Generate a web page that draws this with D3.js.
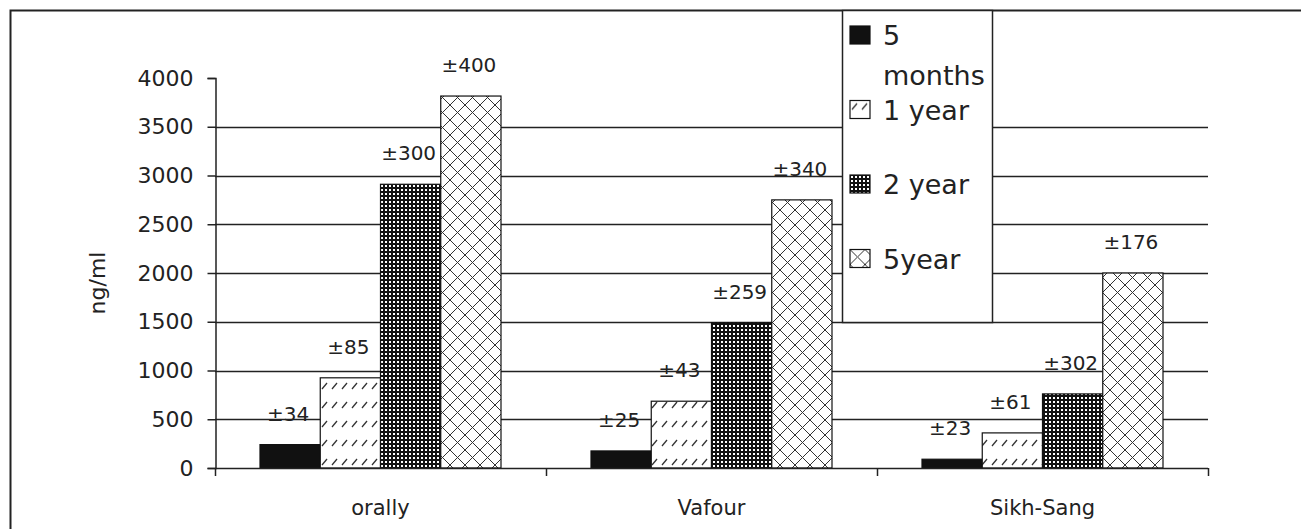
<!DOCTYPE html>
<html>
<head>
<meta charset="utf-8">
<script src="https://cdn.jsdelivr.net/npm/d3@7"></script>
<style>
  body { margin: 0; background: #fff; }
  text { font-family: "DejaVu Sans", sans-serif; fill: #222; }
</style>
</head>
<body>
<div id="chart"></div>
<script>
// ---------- data ----------
const categories = ['orally', 'Vafour', 'Sikh-Sang']
const seriesNames = ['5 months', '1 year', '2 year', '5year']
const months5 = [240, 175, 90]
const year1 = [925, 685, 360]
const year2 = [2910, 1490, 760]
const year5 = [3815, 2750, 2000]
const err5m = ['±34', '±25', '±23']
const err1y = ['±85', '±43', '±61']
const err2y = ['±300', '±259', '±302']
const err5y = ['±400', '±340', '±176']
const yTicks = [0, 500, 1000, 1500, 2000, 2500, 3000, 3500, 4000]
const gridTicks = [500, 1000, 1500, 2000, 2500, 3000, 3500]

const seriesValues = [months5, year1, year2, year5]
const seriesErrors = [err5m, err1y, err2y, err5y]
const fills = ['#111', 'url(#p1y)', 'url(#p2y)', 'url(#p5y)']

const W = 1301, H = 529

const svg = d3.select('#chart').append('svg')
  .attr('width', W)
  .attr('height', H)

/* ---------- patterns ---------- */
const defs = svg.append('defs')

const p1 = defs.append('pattern').attr('id', 'p1y')
  .attr('patternUnits', 'userSpaceOnUse').attr('width', 10).attr('height', 19)
p1.append('rect').attr('width', 10).attr('height', 19).attr('fill', '#fff')
p1.append('path').attr('d', 'M2,9 L7,3').attr('stroke', '#333').attr('stroke-width', 1.3)

const p2 = defs.append('pattern').attr('id', 'p2y')
  .attr('patternUnits', 'userSpaceOnUse').attr('width', 4).attr('height', 4)
p2.append('rect').attr('width', 4).attr('height', 4).attr('fill', '#111')
p2.append('rect').attr('x', 1).attr('y', 1).attr('width', 2).attr('height', 2).attr('fill', '#fff')

const p5 = defs.append('pattern').attr('id', 'p5y')
  .attr('patternUnits', 'userSpaceOnUse').attr('width', 15).attr('height', 15)
p5.append('rect').attr('width', 15).attr('height', 15).attr('fill', '#fff')
p5.append('path').attr('d', 'M0,0 L15,15 M15,0 L0,15').attr('stroke', '#333').attr('stroke-width', 1)

/* ---------- frame ---------- */
svg.append('rect')
  .attr('x', 10.5).attr('y', 10.5)
  .attr('width', 1400).attr('height', 600)
  .attr('fill', '#fff')
  .attr('stroke', '#222')
  .attr('stroke-width', 2)

/* ---------- scales ---------- */
const x = d3.scaleBand().domain(categories).range([215, 1208])
const xInner = d3.scaleBand().domain(seriesNames).range([45, x.bandwidth() - 45])
const y = d3.scaleLinear().domain([0, 4000]).range([468, 78])

/* gridlines */
svg.append('g')
  .selectAll('line')
  .data(gridTicks)
  .enter().append('line')
  .attr('x1', 215).attr('x2', 1208)
  .attr('y1', d => Math.round(y(d)) + 0.5)
  .attr('y2', d => Math.round(y(d)) + 0.5)
  .attr('stroke', '#222')
  .attr('stroke-width', 1.5)

/* ---------- bars ---------- */
const rows = []
seriesNames.forEach((s, si) => {
  categories.forEach((c, ci) => {
    rows.push({ s, si, c, v: seriesValues[si][ci], err: seriesErrors[si][ci] })
  })
})

svg.append('g')
  .selectAll('rect')
  .data(rows)
  .enter().append('rect')
  .attr('x', d => x(d.c) + xInner(d.s))
  .attr('y', d => y(d.v))
  .attr('width', xInner.bandwidth())
  .attr('height', d => y(0) - y(d.v))
  .attr('fill', d => fills[d.si])
  .attr('stroke', '#111')
  .attr('stroke-width', 1.2)

/* error labels */
svg.append('g')
  .selectAll('text')
  .data(rows)
  .enter().append('text')
  .attr('x', d => x(d.c) + xInner(d.s) + xInner.bandwidth() / 2 - 2)
  .attr('y', d => y(d.v) - 24)
  .attr('text-anchor', 'middle')
  .style('font-size', '20px')
  .text(d => d.err)

/* ---------- axes ---------- */
const yAxis = svg.append('g')
  .attr('transform', 'translate(215.5,0)')
  .call(d3.axisLeft(y).tickValues(yTicks).tickFormat(d3.format('d')).tickSize(8).tickPadding(14))
yAxis.selectAll('text').style('font-size', '22px').attr('fill', '#222')
yAxis.selectAll('line, path').attr('stroke', '#222').attr('stroke-width', 1.5)

/* x baseline and boundary ticks */
svg.append('line')
  .attr('x1', 215).attr('x2', 1208)
  .attr('y1', y(0) + 0.5).attr('y2', y(0) + 0.5)
  .attr('stroke', '#222').attr('stroke-width', 1.5)

const bounds = categories.map(c => x(c)).concat([x.range()[1]])
svg.append('g')
  .selectAll('line')
  .data(bounds)
  .enter().append('line')
  .attr('x1', d => Math.round(d) + 0.5).attr('x2', d => Math.round(d) + 0.5)
  .attr('y1', y(0)).attr('y2', y(0) + 8)
  .attr('stroke', '#222').attr('stroke-width', 1.5)

svg.append('g')
  .selectAll('text')
  .data(categories)
  .enter().append('text')
  .attr('x', d => x(d) + x.bandwidth() / 2)
  .attr('y', 515)
  .attr('text-anchor', 'middle')
  .style('font-size', '21px')
  .text(d => d)

/* y axis title */
svg.append('text')
  .attr('transform', 'translate(105,283) rotate(-90)')
  .attr('text-anchor', 'middle')
  .style('font-size', '22px')
  .text('ng/ml')

/* ---------- legend ---------- */
const legend = svg.append('g')
legend.append('rect')
  .attr('x', 842.5).attr('y', 10.5)
  .attr('width', 150).attr('height', 312)
  .attr('fill', '#fff')
  .attr('stroke', '#222')
  .attr('stroke-width', 1.5)

const legendItems = legend.selectAll('g.item')
  .data(seriesNames)
  .enter().append('g')
  .attr('class', 'item')
  .attr('transform', (d, i) => `translate(850, ${26 + i * 74.5})`)

legendItems.append('rect')
  .attr('width', 20).attr('height', 18)
  .attr('fill', (d, i) => fills[i])
  .attr('stroke', '#111')
  .attr('stroke-width', 1.2)

legendItems.append('text')
  .attr('x', 33)
  .attr('y', 19)
  .style('font-size', '27px')
  .each(function (d) {
    const parts = d === '5 months' ? ['5', 'months'] : [d]
    parts.forEach((p, k) => {
      d3.select(this).append('tspan')
        .attr('x', 33)
        .attr('dy', k === 0 ? 0 : 40)
        .text(p)
    })
  })
</script>
</body>
</html>
